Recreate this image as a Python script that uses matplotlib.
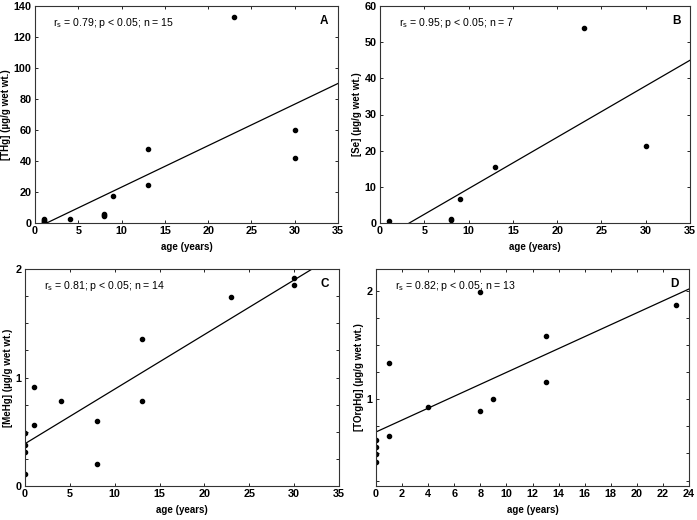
import matplotlib
matplotlib.use("Agg")
import matplotlib.pyplot as plt
from matplotlib.ticker import MultipleLocator

plt.rcParams['font.family'] = ['Liberation Sans', 'DejaVu Sans']

# Panel A: total Hg vs age
age_a = [23, 30, 30, 13, 13, 9, 8, 8, 8, 4, 1, 1, 1, 1, 1]
thg = [133, 60, 41.7, 48, 24.8, 17.4, 6.0, 5.2, 4.5, 2.6, 2.8, 2.0, 1.2, 0.7, 0.3]
line_a = (2.675, -3.6)

# Panel B: Se vs age
age_b = [23, 30, 13, 9, 8, 8, 1]
se = [53.8, 21.2, 15.4, 6.6, 1.2, 0.7, 0.45]
line_b = (1.42, -4.7)

# Panel C: MeHg vs age
age_c = [30, 30, 23, 13, 13, 8, 8, 4, 1, 1, 0, 0, 0, 0]
mehg = [1.92, 1.85, 1.745, 1.357, 0.782, 0.603, 0.2, 0.782, 0.914, 0.56, 0.486, 0.378, 0.31, 0.11]
line_c = (0.0503, 0.39)

# Panel D: total organic Hg vs age
age_d = [23, 13, 13, 9, 8, 8, 4, 1, 1, 0, 0, 0, 0]
torghg = [1.865, 1.58, 1.16, 1.0, 1.99, 0.89, 0.93, 1.33, 0.66, 0.625, 0.563, 0.495, 0.425]
line_d = (0.0549, 0.698)

W, H = 697, 520
fig = plt.figure(figsize=(W / 100, H / 100), dpi=100)


def px_axes(left, top, right, bottom):
    return fig.add_axes([left / W, 1 - bottom / H, (right - left) / W, (bottom - top) / H])


def panel(ax, x, y, line, xmax, ylim, xstep, ystep, ylabel, stats, letter, yminor=None):
    ax.plot(x, y, 'o', color='black', markersize=3.0, clip_on=True)
    slope, icpt = line
    ax.plot([0, xmax], [icpt, icpt + slope * xmax], color='black', lw=0.9)
    ax.set_xlim(0, xmax)
    ax.set_ylim(*ylim)
    ax.xaxis.set_major_locator(MultipleLocator(xstep))
    ax.yaxis.set_major_locator(MultipleLocator(ystep))
    if yminor:
        ax.yaxis.set_minor_locator(MultipleLocator(yminor))
    ax.tick_params(direction='in', top=True, right=True, length=2.5, width=0.6,
                   labelsize=7.8, pad=2.5)
    ax.tick_params(which='minor', direction='in', right=True, length=2, width=0.6)
    for lab in ax.get_xticklabels() + ax.get_yticklabels():
        lab.set_fontweight('bold')
    for sp in ax.spines.values():
        sp.set_linewidth(0.8)
        sp.set_color('#333333')
    ax.set_xlabel('age (years)', fontsize=7, fontweight='bold', labelpad=4)
    ax.set_ylabel(ylabel, fontsize=7, fontweight='bold', labelpad=1.5)
    ax.text(0.06, 0.92, stats, transform=ax.transAxes, fontsize=7.6, va='center')
    ax.text(0.955, 0.93, letter, transform=ax.transAxes, fontsize=8.5,
            fontweight='bold', ha='center', va='center')


ax_a = px_axes(35, 6, 338, 223)
panel(ax_a, age_a, thg, line_a, 35, (0, 140), 5, 20,
      '[THg] (µg/g wet wt.)', r'r$_\mathrm{s}$ = 0.79; p < 0.05; n = 15', 'A')

ax_b = px_axes(380, 6, 690, 223)
panel(ax_b, age_b, se, line_b, 35, (0, 60), 5, 10,
      '[Se] (µg/g wet wt.)', r'r$_\mathrm{s}$ = 0.95; p < 0.05; n = 7', 'B')

ax_c = px_axes(25, 269, 339, 486)
panel(ax_c, age_c, mehg, line_c, 35, (0, 2), 5, 1,
      '[MeHg] (µg/g wet wt.)', r'r$_\mathrm{s}$ = 0.81; p < 0.05; n = 14', 'C', yminor=0.25)

ax_d = px_axes(376, 269, 689, 486)
panel(ax_d, age_d, torghg, line_d, 24, (0.2, 2.2), 2, 1,
      '[TOrgHg] (µg/g wet wt.)', r'r$_\mathrm{s}$ = 0.82; p < 0.05; n = 13', 'D', yminor=0.25)

fig.savefig('out.png', dpi=100)
